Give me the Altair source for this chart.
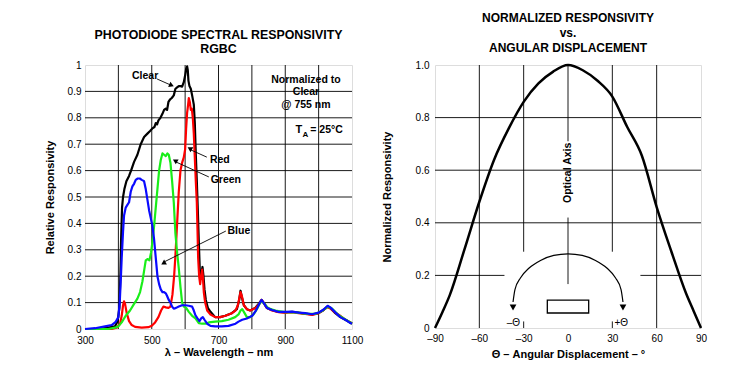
import altair as alt
import pandas as pd

FONT = "Liberation Sans"

# ---------------- Spectral responsivity (left) ----------------
clear_wl = [300, 340, 370, 390, 398, 403, 406, 408, 411, 414, 418, 424, 432, 438, 447, 457, 467, 477, 487, 495,
            502, 508, 512, 516, 520, 526, 532, 537, 542, 546, 550, 555, 560, 566, 571, 576, 581, 587, 591, 596,
            600, 603, 606, 608, 610, 613, 617, 621, 626, 629, 632, 635, 638, 641, 644, 647, 650, 652, 655, 658,
            662, 668, 676, 690, 705, 720, 740, 755, 762, 766, 770, 776, 785, 795, 810, 820, 829, 835, 845, 860,
            880, 900, 920, 940, 960, 980, 1000, 1015, 1027, 1035, 1050, 1065, 1080, 1100]
clear_v = [0.0, 0.0, 0.005, 0.01, 0.03, 0.08, 0.2, 0.33, 0.46, 0.5, 0.53, 0.56, 0.58, 0.6, 0.633, 0.66, 0.70, 0.727, 0.74, 0.75,
           0.76, 0.765, 0.78, 0.775, 0.79, 0.80, 0.815, 0.83, 0.835, 0.83, 0.86, 0.87, 0.875, 0.885, 0.91, 0.915, 0.92, 0.92, 0.918, 0.935,
           0.96, 0.985, 0.995, 0.98, 0.94, 0.92, 0.91, 0.885, 0.85, 0.78, 0.66, 0.56, 0.45, 0.33, 0.22, 0.19, 0.22, 0.235, 0.2, 0.15,
           0.11, 0.08, 0.065, 0.045, 0.045, 0.05, 0.06, 0.075, 0.11, 0.145, 0.12, 0.09, 0.075, 0.07, 0.08, 0.095, 0.11, 0.1, 0.08, 0.072,
           0.065, 0.063, 0.065, 0.062, 0.058, 0.055, 0.06, 0.072, 0.085, 0.08, 0.06, 0.045, 0.035, 0.022]

red_wl = [300, 380, 395, 405, 410, 414, 417, 420, 425, 432, 440, 450, 470, 490, 500, 510, 520, 528, 535, 542,
          550, 556, 562, 567, 571, 576, 581, 586, 591, 596, 600, 603, 606, 609, 611, 614, 617, 620, 623, 626,
          629, 632, 635, 637, 639, 642, 645, 648, 651, 653, 656, 660, 666, 676, 690, 705, 721, 740, 751, 758,
          763, 766, 770, 776, 785, 795, 811, 822, 829, 835, 845, 860, 880, 900, 921, 940, 960, 981, 1000, 1015,
          1025, 1035, 1050, 1061, 1075, 1090, 1100]
red_v = [0.0, 0.0, 0.005, 0.02, 0.05, 0.09, 0.105, 0.095, 0.06, 0.03, 0.015, 0.008, 0.005, 0.007, 0.012, 0.025, 0.045, 0.07, 0.085, 0.082,
         0.08, 0.085, 0.13, 0.2, 0.28, 0.4, 0.52, 0.6, 0.63, 0.65, 0.68, 0.76, 0.82, 0.85, 0.875, 0.86, 0.83, 0.835, 0.8, 0.74,
         0.65, 0.56, 0.48, 0.38, 0.27, 0.2, 0.17, 0.2, 0.225, 0.2, 0.14, 0.1, 0.07, 0.055, 0.045, 0.045, 0.05, 0.06, 0.07, 0.09,
         0.12, 0.14, 0.125, 0.09, 0.075, 0.07, 0.08, 0.095, 0.11, 0.1, 0.08, 0.07, 0.064, 0.062, 0.064, 0.06, 0.057, 0.053, 0.06, 0.072,
         0.083, 0.078, 0.062, 0.053, 0.04, 0.028, 0.02]

green_wl = [300, 370, 390, 400, 410, 422, 435, 447, 457, 465, 472, 477, 482, 488, 493, 498, 502, 507, 512, 517,
            522, 527, 532, 537, 542, 547, 551, 556, 561, 566, 571, 576, 581, 586, 591, 596, 603, 611, 621, 631,
            641, 651, 661, 671, 690, 710, 730, 750, 760, 766, 771, 776, 785, 795, 805, 815, 825, 830, 838, 850,
            870, 900, 930, 960, 990, 1010, 1027, 1040, 1060, 1080, 1100]
green_v = [0.0, 0.0, 0.005, 0.01, 0.025, 0.05, 0.07, 0.095, 0.115, 0.14, 0.18, 0.22, 0.26, 0.265, 0.26, 0.29, 0.33, 0.39, 0.46, 0.53,
           0.6, 0.64, 0.665, 0.66, 0.655, 0.665, 0.66, 0.63, 0.56, 0.48, 0.36, 0.29, 0.23, 0.16, 0.1, 0.085, 0.08, 0.065, 0.05, 0.04,
           0.022, 0.02, 0.02, 0.025, 0.028, 0.03, 0.035, 0.045, 0.055, 0.07, 0.075, 0.065, 0.045, 0.045, 0.055, 0.075, 0.1, 0.105, 0.095, 0.078,
           0.07, 0.064, 0.063, 0.058, 0.057, 0.068, 0.085, 0.078, 0.052, 0.036, 0.02]

blue_wl = [300, 330, 360, 380, 392, 400, 404, 407, 410, 414, 417, 422, 427, 432, 437, 442, 447, 452, 458, 464,
           470, 477, 482, 487, 492, 497, 502, 507, 512, 517, 522, 527, 532, 537, 542, 546, 551, 556, 561, 566,
           573, 581, 591, 601, 611, 621, 626, 631, 637, 643, 648, 653, 658, 666, 676, 690, 710, 730, 751, 760,
           771, 785, 801, 812, 822, 829, 835, 845, 860, 880, 900, 921, 940, 960, 980, 1000, 1015, 1027, 1035, 1050,
           1065, 1080, 1092, 1100]
blue_v = [0.0, 0.003, 0.01, 0.015, 0.027, 0.045, 0.1, 0.18, 0.27, 0.37, 0.43, 0.46, 0.47, 0.48, 0.52, 0.54, 0.55, 0.565, 0.57, 0.57,
          0.565, 0.56, 0.53, 0.49, 0.45, 0.42, 0.39, 0.34, 0.27, 0.2, 0.17, 0.15, 0.14, 0.14, 0.135, 0.125, 0.11, 0.1, 0.085, 0.077,
          0.08, 0.085, 0.09, 0.09, 0.088, 0.085, 0.07, 0.052, 0.04, 0.03, 0.04, 0.045, 0.035, 0.02, 0.012, 0.01, 0.01, 0.012, 0.02, 0.028,
          0.035, 0.04, 0.05, 0.07, 0.095, 0.11, 0.1, 0.08, 0.072, 0.065, 0.065, 0.066, 0.062, 0.06, 0.056, 0.062, 0.074, 0.088, 0.082, 0.063,
          0.045, 0.035, 0.025, 0.02]

series_names = ["Clear", "Red", "Green", "Blue"]
series_colors = ["#000000", "#ff0000", "#19ee19", "#0a0aff"]

wl_ticks = [300, 400, 500, 600, 700, 800, 900, 1000, 1100]
resp_ticks = [0, 0.1, 0.2, 0.3, 0.4, 0.5, 0.6, 0.7, 0.8, 0.9, 1]

# annotation labels (left)
lab_text = ["Clear", "Red", "Green", "Blue", "Normalized to", "Clear", "@ 755 nm"]
lab_x = [480, 704, 722, 761, 962, 962, 962]
lab_y = [0.958, 0.64, 0.564, 0.371, 0.942, 0.897, 0.848]
# leader lines (left)
lead_x = [516, 665, 671, 722]
lead_y = [0.947, 0.651, 0.576, 0.371]
lead_x2 = [557, 616, 572, 537]
lead_y2 = [0.924, 0.679, 0.633, 0.254]
head_shape = ["triangle", "triangle-down", "triangle-down", "triangle-up"]
head_angle = [113, 0, 0, 0]

# ---------------- Angular response (right) ----------------
ang_deg = [-90, -85, -80, -70, -60, -50, -40, -30, -20, -10, 0, 10, 20, 30, 40, 50, 60, 70, 80, 85, 90]
ang_resp = [0.0, 0.06, 0.125, 0.30, 0.48, 0.64, 0.76, 0.86, 0.93, 0.975, 1.0, 0.98, 0.94, 0.88, 0.765, 0.655, 0.46, 0.29, 0.13, 0.065, 0.0]
ang_ticks = [-90, -60, -30, 0, 30, 60, 90]
norm_ticks = [0, 0.2, 0.4, 0.6, 0.8, 1.0]

# grid segments (x, x2, y, y2) on the right panel
grid_x = [-60, 60, -30, 30, -30, 30, 0, 0, -90, -90, -90, -90, 49]
grid_x2 = [-60, 60, -30, 30, -30, 30, 0, 0, 90, 90, 90, -43, 90]
grid_y = [0, 0, 0.29, 0.29, 0, 0, 0.71, 0.167, 0.8, 0.6, 0.4, 0.2, 0.2]
grid_y2 = [1, 1, 1, 1, 0.025, 0.025, 1, 0.42, 0.8, 0.6, 0.4, 0.2, 0.2]

# inset diagram (arc of rotation) points
arc_x = [-37.2, -35.9, -32.2, -26.3, -18.6, -9.6, 0, 9.6, 18.6, 26.3, 32.2, 35.9, 37.2]
arc_y = [0.099, 0.146, 0.19, 0.228, 0.257, 0.276, 0.282, 0.276, 0.257, 0.228, 0.19, 0.146, 0.099]
rect_x, rect_x2, rect_y, rect_y2 = [-14], [14], [0.057], [0.106]
head_rx = [-37.2, 37.2]
head_ry = [0.078, 0.078]
theta_text = ["\u2013\u0398", "+\u0398"]
theta_x = [-37, 36]
theta_y = [0.018, 0.018]

# ================= build left chart =================
xs = alt.Scale(domain=[300, 1100], nice=False, zero=False)
ys = alt.Scale(domain=[0, 1], nice=False)
x_axis = alt.Axis(values=wl_ticks, format="d",
                  labelExpr="datum.value % 200 == 100 ? datum.label : ''",
                  title="\u03bb \u2013 Wavelength \u2013 nm", grid=False, ticks=False, labelFlush=False,
                  domain=False, labelPadding=6, titlePadding=1)
y_axis = alt.Axis(values=resp_ticks, format="~g", labelOverlap=False, labelFlush=False,
                  title="Relative Responsivity", grid=False, ticks=False,
                  domain=False, labelPadding=4, titlePadding=12)


def LX(f):
    return alt.X(f, scale=xs, axis=x_axis)


def LY(f):
    return alt.Y(f, scale=ys, axis=y_axis)


lgrid_df = pd.DataFrame({
    "x": wl_ticks[1:-1] + [300] * 9,
    "x2": wl_ticks[1:-1] + [1100] * 9,
    "y": [0] * 7 + resp_ticks[1:-1],
    "y2": [1] * 7 + resp_ticks[1:-1],
})
lgrid = alt.Chart(lgrid_df).mark_rule(color="black", strokeWidth=0.9).encode(
    x=LX("x:Q"), x2="x2:Q", y=LY("y:Q"), y2="y2:Q")

layers = []
for name, wl, v, col in zip(series_names, [clear_wl, red_wl, green_wl, blue_wl],
                            [clear_v, red_v, green_v, blue_v], series_colors):
    df = pd.DataFrame({"wl": wl, "v": v})
    layers.append(alt.Chart(df).mark_line(color=col, strokeWidth=2.2, strokeJoin="round").encode(
        x=LX("wl:Q"), y=LY("v:Q")))

lab_df = pd.DataFrame({"t": lab_text, "x": lab_x, "y": lab_y})
labels = alt.Chart(lab_df).mark_text(font=FONT, fontSize=10.5, fontWeight="bold", color="black").encode(
    x=LX("x:Q"), y=LY("y:Q"), text="t:N")

lead_df = pd.DataFrame({"x": lead_x, "y": lead_y, "x2": lead_x2, "y2": lead_y2,
                        "shape": head_shape, "ang": head_angle})
leads = alt.Chart(lead_df).mark_rule(color="black", strokeWidth=0.9).encode(
    x=LX("x:Q"), x2="x2:Q", y=LY("y:Q"), y2="y2:Q")
heads = alt.Chart(lead_df).mark_point(filled=True, color="black", size=32, opacity=1).encode(
    x=LX("x2:Q"), y=LY("y2:Q"),
    shape=alt.Shape("shape:N", scale=None), angle=alt.Angle("ang:Q", scale=None))

ta = alt.Chart(pd.DataFrame({"t": ["T"], "x": [941], "y": [0.752]})).mark_text(
    font=FONT, fontSize=11, fontWeight="bold", color="black").encode(
    x=LX("x:Q"), y=LY("y:Q"), text="t:N")
ta_sub = alt.Chart(pd.DataFrame({"t": ["A"], "x": [960], "y": [0.736]})).mark_text(
    font=FONT, fontSize=8, fontWeight="bold", color="black").encode(
    x=LX("x:Q"), y=LY("y:Q"), text="t:N")
ta_rest = alt.Chart(pd.DataFrame({"t": ["= 25\u00b0C"], "x": [975], "y": [0.752]})).mark_text(
    font=FONT, fontSize=10.5, fontWeight="bold", color="black", align="left").encode(
    x=LX("x:Q"), y=LY("y:Q"), text="t:N")

left = alt.layer(lgrid, *layers, leads, heads, labels, ta, ta_sub, ta_rest).properties(
    width=267, height=264,
    title=alt.TitleParams(["PHOTODIODE SPECTRAL RESPONSIVITY", "RGBC"], anchor="middle",
                          fontSize=12.4, font=FONT, fontWeight="bold", lineHeight=14, offset=5))

# ================= build right chart =================
axs = alt.Scale(domain=[-90, 90], nice=False, zero=False)
ays = alt.Scale(domain=[0, 1], nice=False)
ax_axis = alt.Axis(values=ang_ticks, labelFlush=False,
                   labelExpr="datum.value < 0 ? '\u2013' + abs(datum.value) : datum.label",
                   title="\u0398 \u2013 Angular Displacement \u2013 \u00b0", grid=False, ticks=False,
                   domain=False, labelPadding=5, titlePadding=5)
ay_axis = alt.Axis(values=norm_ticks, labelFlush=False, labelOverlap=False,
                   labelExpr="datum.value == 0 ? '0' : format(datum.value, '.1f')",
                   title="Normalized Responsivity", grid=False, ticks=False,
                   domain=False, labelPadding=6, titlePadding=23)


def RX(f):
    return alt.X(f, scale=axs, axis=ax_axis)


def RY(f):
    return alt.Y(f, scale=ays, axis=ay_axis)


ang_df = pd.DataFrame({"a": ang_deg, "r": ang_resp})
curve = alt.Chart(ang_df).mark_line(color="black", strokeWidth=2.5, interpolate="monotone").encode(
    x=RX("a:Q"), y=RY("r:Q"))

grid_df = pd.DataFrame({"x": grid_x, "x2": grid_x2, "y": grid_y, "y2": grid_y2})
grid = alt.Chart(grid_df).mark_rule(color="black", strokeWidth=0.9).encode(
    x=RX("x:Q"), x2="x2:Q", y=RY("y:Q"), y2="y2:Q")

opt = alt.Chart(pd.DataFrame({"t": ["Optical Axis"], "x": [0], "y": [0.59]})).mark_text(
    font=FONT, fontSize=10.5, fontWeight="bold", color="black", angle=270).encode(
    x=RX("x:Q"), y=RY("y:Q"), text="t:N")

arc = alt.Chart(pd.DataFrame({"x": arc_x, "y": arc_y, "o": list(range(len(arc_x)))})).mark_line(
    color="black", strokeWidth=1.2, interpolate="monotone").encode(
    x=RX("x:Q"), y=RY("y:Q"), order="o:Q")
arc_heads = alt.Chart(pd.DataFrame({"x": head_rx, "y": head_ry})).mark_point(
    shape="triangle-down", filled=True, color="black", size=45, opacity=1).encode(
    x=RX("x:Q"), y=RY("y:Q"))
box = alt.Chart(pd.DataFrame({"x": rect_x, "x2": rect_x2, "y": rect_y, "y2": rect_y2})).mark_rect(
    fill="white", stroke="black", strokeWidth=1.3).encode(
    x=RX("x:Q"), x2="x2:Q", y=RY("y:Q"), y2="y2:Q")
theta_lbl = alt.Chart(pd.DataFrame({"t": theta_text, "x": theta_x, "y": theta_y})).mark_text(
    font=FONT, fontSize=10, color="black").encode(
    x=RX("x:Q"), y=RY("y:Q"), text="t:N")

right = alt.layer(grid, curve, opt, arc, arc_heads, box, theta_lbl).properties(
    width=266, height=263,
    title=alt.TitleParams(["NORMALIZED RESPONSIVITY", "vs.", "ANGULAR DISPLACEMENT"], anchor="middle",
                          fontSize=12, font=FONT, fontWeight="bold", lineHeight=15, offset=5))

chart = alt.hconcat(left, right, spacing=16).properties(
    padding={"left": 35, "top": 3, "right": 5, "bottom": 5}
).configure_view(stroke="black", strokeWidth=1.4).configure_axis(
    labelFont=FONT, labelFontSize=10, labelFontWeight="bold", labelColor="black",
    titleFont=FONT, titleFontSize=10, titleFontWeight="bold", titleColor="black"
).configure(background="white")

chart.save("out.html", embed_options={"renderer": "svg", "actions": False})
